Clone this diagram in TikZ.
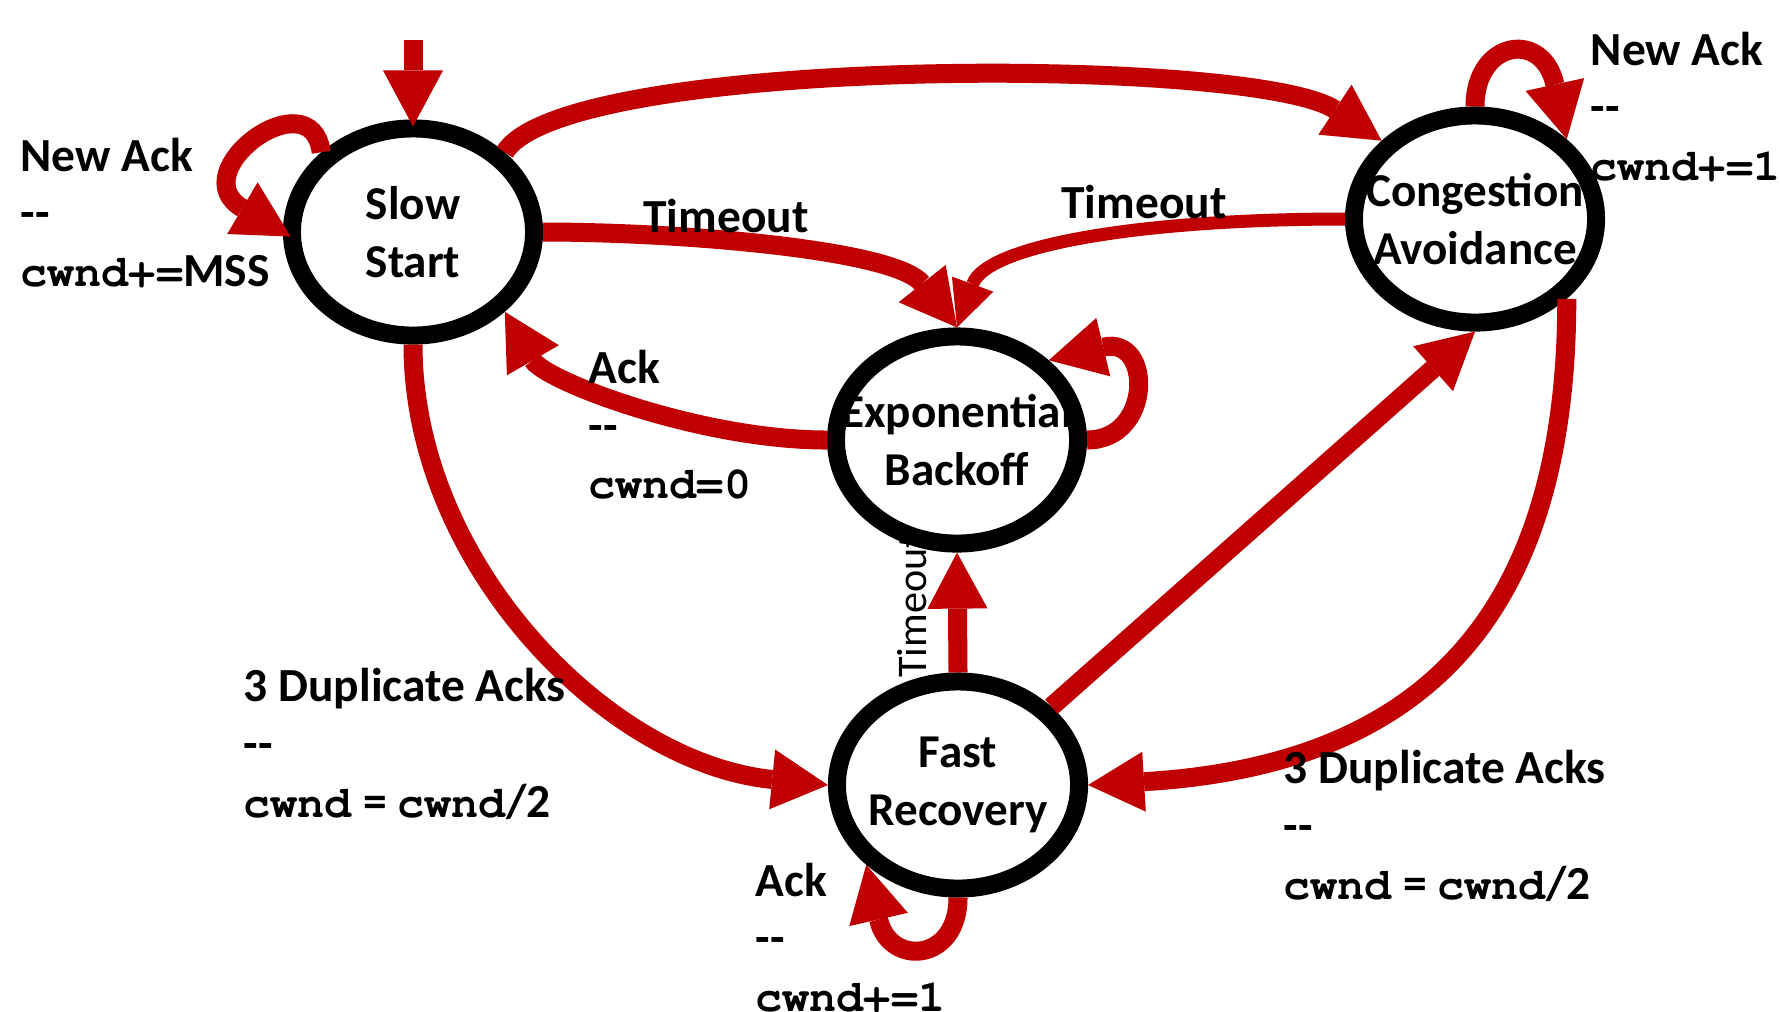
\documentclass[tikz,border=0pt]{standalone}
\usepackage{fontspec}
\setmainfont{Carlito}
\setmonofont{TeX Gyre Cursor}[Scale=0.95]
\usetikzlibrary{arrows.meta,shapes.geometric}
\definecolor{arrowred}{RGB}{192,0,0}
\newcommand{\cwnd}{\texttt{cwnd}}

\begin{document}
\begin{tikzpicture}[x=0.01cm,y=0.01cm,
  state/.style={ellipse,draw=black,line width=0.18cm,fill=white,minimum width=2.42cm,minimum height=2.07cm,inner sep=0pt},
  statetext/.style={font=\bfseries\fontsize{13.4}{16.4}\selectfont,align=center,inner sep=0pt},
  trans/.style={draw=arrowred,line width=0.19cm,-{Triangle[length=0.56cm,width=0.6cm,line width=0pt]}},
  thintrans/.style={draw=arrowred,line width=0.13cm,-{Triangle[length=0.46cm,width=0.44cm,line width=0pt]}},
  tlabel/.style={font=\bfseries\fontsize{13.5}{16.4}\selectfont,align=left,anchor=west,inner sep=0pt}]

\useasboundingbox (0,0) rectangle (1780,-1011);

% sits partly under the backoff state
\node[rotate=90,inner sep=0pt,font=\fontsize{12}{14}\selectfont] (tvert) at (912,-606) {Timeout};

\node[state] (SS) at (413,-232) {};
\node[state] (CA) at (1475,-219) {};
\node[state] (EB) at (957,-440) {};
\node[state] (FR) at (958,-785) {};

\node[statetext] (SSt) at (SS) {Slow\\Start};
\node[statetext] (CAt) at (CA) {Congestion\\Avoidance};
\node[statetext] (EBt) at (EB) {Exponential\\Backoff};
\node[statetext] (FRt) at (FR) {Fast\\Recovery};

\coordinate (init) at (413,-40);
\draw[trans,shorten >=-0.07cm] (init) -- (SS.north);
\draw[trans,shorten >=-0.09cm] (SS.139) .. controls +(-10,76) and +(-102,60) .. (SS.west);
\draw[trans] (SS.41) .. controls +(60,97) and +(-128,85) .. (CA.140);
\draw[trans] (SS.east) .. controls +(137,0) and +(-62,78) .. (EB.north);
\draw[thintrans] (CA.west) .. controls +(-200,0) and +(30,83) .. (EB.north);
\draw[trans] (EB.west) .. controls +(-127,0) and +(40,-69) .. (SS.-41);
\draw[trans] (EB.east) .. controls +(66,0) and +(104,25) .. (EB.41);
\draw[trans] (SS.south) .. controls +(0,-220) and +(-220,22) .. (FR.west);
\draw[trans] (CA.-41) .. controls +(0,-316) and +(336,20) .. (FR.east);
\draw[trans] (FR.north) -- (EB.south);
\draw[trans] (FR.40) -- (CA.south);
\draw[trans] (FR.south) .. controls +(0,-65) and +(23,-102) .. (FR.221);
\draw[trans] (CA.north) .. controls +(0,66) and +(-24,110) .. (CA.41);

\node[tlabel] (ssack) at (20,-213) {New Ack\\-{}-\\\texttt{cwnd+=}MSS};
\node[tlabel] (caack) at (1590,-107) {New Ack\\-{}-\\\texttt{cwnd+=1}};
\node[tlabel,anchor=center] (ssto) at (726,-216) {Timeout};
\node[tlabel,anchor=center] (cato) at (1144,-202) {Timeout};
\node[tlabel] (eback) at (588,-425) {Ack\\-{}-\\\texttt{cwnd=0}};
\node[tlabel] (ssdup) at (243,-744) {3 Duplicate Acks\\-{}-\\\cwnd{} = \cwnd/2};
\node[tlabel] (cadup) at (1283,-826) {3 Duplicate Acks\\-{}-\\\cwnd{} = \cwnd/2};
\node[tlabel] (frack) at (755,-938) {Ack\\-{}-\\\texttt{cwnd+=1}};

\end{tikzpicture}
\end{document}
